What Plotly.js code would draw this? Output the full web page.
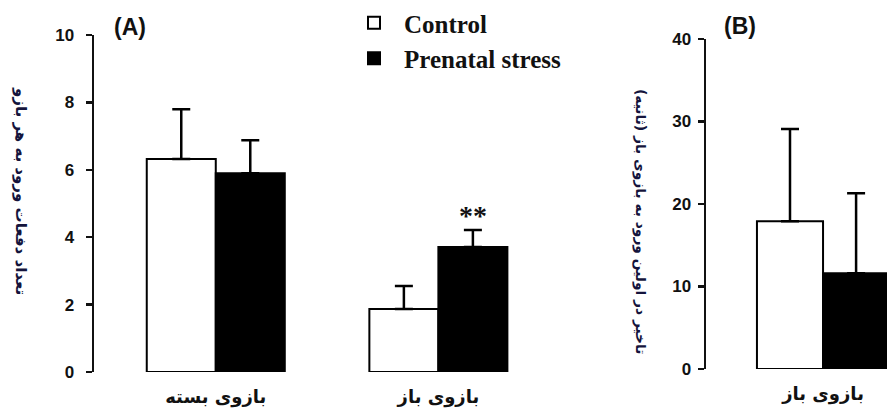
<!DOCTYPE html>
<html><head><meta charset="utf-8">
<script src="https://cdn.plot.ly/plotly-3.0.1.min.js"></script>
<style>html,body{margin:0;padding:0;background:#fff;} #chart{width:887px;height:410px;}</style>
</head><body><div id="chart"></div>
<script>
// ---- data ----
const categoriesA = ['بازوی بسته', 'بازوی باز'];
const controlA = [6.32, 1.87];
const controlAErr = [1.48, 0.68];
const stressA = [5.90, 3.71];
const stressAErr = [0.98, 0.50];
const categoriesB = ['بازوی باز'];
const controlB = [17.9];
const controlBErr = [11.2];
const stressB = [11.6];
const stressBErr = [9.7];
const seriesNames = ['Control', 'Prenatal stress'];
const significanceA = ['', '**'];
const tickValsA = [0, 2, 4, 6, 8, 10];
const tickValsB = [0, 10, 20, 30, 40];
const yTitleA = 'تعداد دفعات ورود به هر بازو';
const yTitleB = 'تاخیر در اولین ورود به بازوی باز (ثانیه)';
const panelLabels = ['(A)', '(B)'];

// ---- styling ----
const W = 887, H = 410;
const BARGAP = 0.38;
const persianFont = 'DejaVu Sans, sans-serif';
const tickFont = {family: 'Liberation Sans, Arial, sans-serif', size: 17, color: '#111', weight: 'bold'};
const catFont = {family: persianFont, size: 18, color: '#111', weight: 'bold'};
const titleColor = '#14143c';

function errY(arr) {
  return {type: 'data', symmetric: false, array: arr, arrayminus: arr.map(() => 0),
          color: '#000', thickness: 2.5, width: 9, visible: true};
}
function bar(x, y, err, name, fill, xa, ya, showlegend) {
  return {type: 'bar', x: x, y: y, name: name, xaxis: xa, yaxis: ya,
    marker: {color: fill, line: {color: '#000', width: 2}},
    error_y: errY(err), showlegend: showlegend, legendgroup: name, hoverinfo: 'y'};
}

const data = [
  bar(categoriesA, controlA, controlAErr, seriesNames[0], '#ffffff', 'x', 'y', true),
  bar(categoriesA, stressA, stressAErr, seriesNames[1], '#000000', 'x', 'y', true),
  bar(categoriesB, controlB, controlBErr, seriesNames[0], '#ffffff', 'x2', 'y2', false),
  bar(categoriesB, stressB, stressBErr, seriesNames[1], '#000000', 'x2', 'y2', false)
];

const px = v => v / W;
const py = v => 1 - v / H;

const halfBar = (1 - BARGAP) / 4; // center offset of each bar in a pair
const labelFont = {family: 'Liberation Sans, Arial, sans-serif', size: 23, color: '#111', weight: 'bold'};
const annotations = [
  {text: panelLabels[0], xref: 'paper', yref: 'paper', x: px(130), y: py(27), showarrow: false,
   xanchor: 'center', yanchor: 'middle', font: labelFont},
  {text: panelLabels[1], xref: 'paper', yref: 'paper', x: px(740), y: py(26), showarrow: false,
   xanchor: 'center', yanchor: 'middle', font: labelFont},
  {text: yTitleA, xref: 'paper', yref: 'paper', x: px(21), y: py(191), textangle: 90, showarrow: false,
   xanchor: 'center', yanchor: 'middle',
   font: {family: persianFont, size: 15, color: titleColor, weight: 'bold'}},
  {text: yTitleB, xref: 'paper', yref: 'paper', x: px(641), y: py(221), textangle: 90, showarrow: false,
   xanchor: 'center', yanchor: 'middle',
   font: {family: persianFont, size: 13.8, color: titleColor, weight: 'bold'}}
];
significanceA.forEach((s, i) => {
  if (!s) return;
  annotations.push({text: s, xref: 'x', yref: 'y', x: i + halfBar, y: stressA[i] + stressAErr[i],
    xanchor: 'center', yanchor: 'bottom', yshift: -3, showarrow: false,
    font: {family: 'Liberation Serif, serif', size: 28, color: '#111', weight: 'bold'}});
});

const yBase = {showline: true, linecolor: '#111', linewidth: 2.5, ticks: 'outside', ticklen: 6,
  tickwidth: 2.5, tickcolor: '#111', showgrid: false, zeroline: false, tickfont: tickFont, fixedrange: true};
const xBase = {type: 'category', showline: false, showgrid: false, zeroline: false, ticks: '',
  tickfont: catFont, ticklabelstandoff: 12, fixedrange: true};

const layout = {
  width: W, height: H, margin: {l: 0, r: 0, t: 0, b: 0},
  paper_bgcolor: '#fff', plot_bgcolor: 'rgba(0,0,0,0)',
  barmode: 'group', bargap: BARGAP, bargroupgap: 0,
  xaxis: Object.assign({}, xBase, {domain: [px(94), px(600)], range: [-0.547, 1.726], anchor: 'y'}),
  yaxis: Object.assign({}, yBase, {domain: [py(372), py(35)], range: [0, 10], tickvals: tickValsA,
    ticklabelstandoff: 8, anchor: 'x'}),
  xaxis2: Object.assign({}, xBase, {domain: [px(706), 1], range: [-0.549, 0.300], anchor: 'y2'}),
  yaxis2: Object.assign({}, yBase, {domain: [py(369), py(39)], range: [0, 40], tickvals: tickValsB,
    ticklabelstandoff: 3, anchor: 'x2'}),
  legend: {x: px(344), y: py(0), xanchor: 'left', yanchor: 'top', itemwidth: 50, tracegroupgap: 6,
    bgcolor: 'rgba(0,0,0,0)', font: {family: 'Liberation Serif, serif', size: 25, color: '#111', weight: 'bold'},
    traceorder: 'normal', itemclick: false, itemdoubleclick: false},
  annotations: annotations,
  showlegend: true
};

Plotly.newPlot('chart', data, layout, {displayModeBar: false, staticPlot: true});
</script>
</body></html>
